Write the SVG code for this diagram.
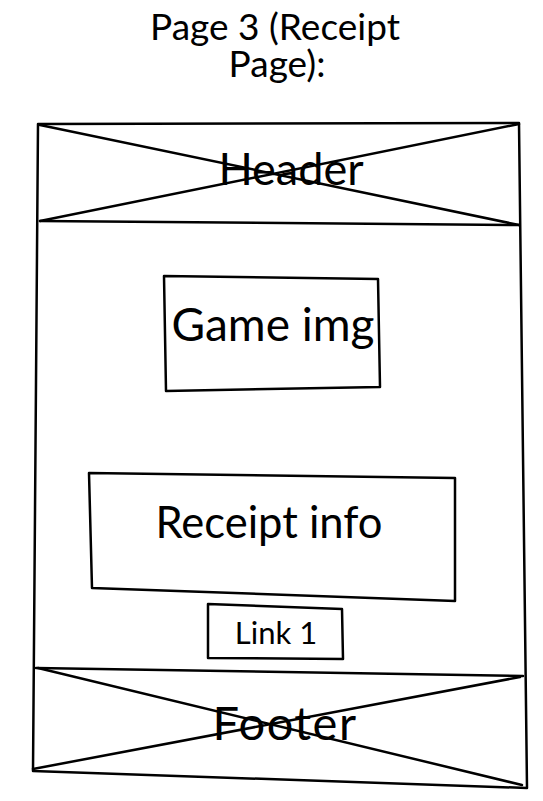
<svg xmlns="http://www.w3.org/2000/svg" width="543" height="801" viewBox="0 0 543 801">
<style>
.ln{fill:none;stroke:#000;stroke-width:2.5;stroke-linejoin:round;stroke-linecap:round}
.bx{fill:#fff;stroke:#000;stroke-width:2.5;stroke-linejoin:round}
text{font-family:Lato,"Noto Sans",sans-serif;fill:#000;text-anchor:middle}
</style>
<rect width="543" height="801" fill="#fff"/>
<g id="title">
<text font-size="37"><tspan x="275" y="40">Page 3 (Receipt</tspan><tspan x="277" y="77">Page):</tspan></text>
</g>
<g id="frame">
<path class="ln" d="M38,124 L519,123 L527,788 L33,771 Z"/>
</g>
<g id="header">
<path class="ln" d="M40,221 L519,225"/>
<path class="ln" d="M40,125 L519,225 M519,124 L40,221"/>
<text x="291" y="185" font-size="45">Header</text>
</g>
<g id="game-img">
<path class="bx" d="M164,276 L378,279 L380,387 L166,391 Z"/>
<text x="273" y="341" font-size="46">Game img</text>
</g>
<g id="receipt-info">
<path class="bx" d="M89,473 L455,478 L455,601 L92,588 Z"/>
<text x="269" y="538" font-size="43.5">Receipt info</text>
</g>
<g id="link1">
<path class="bx" d="M208,604 L342,609 L343,659 L208,658 Z"/>
<text x="276" y="644" font-size="31">Link 1</text>
</g>
<g id="footer">
<path class="ln" d="M36,668 L523,676"/>
<path class="ln" d="M38,668 L522,785 M520,677 L33,769"/>
<text x="285" y="740" font-size="47" letter-spacing="1.5">Footer</text>
</g>
</svg>
